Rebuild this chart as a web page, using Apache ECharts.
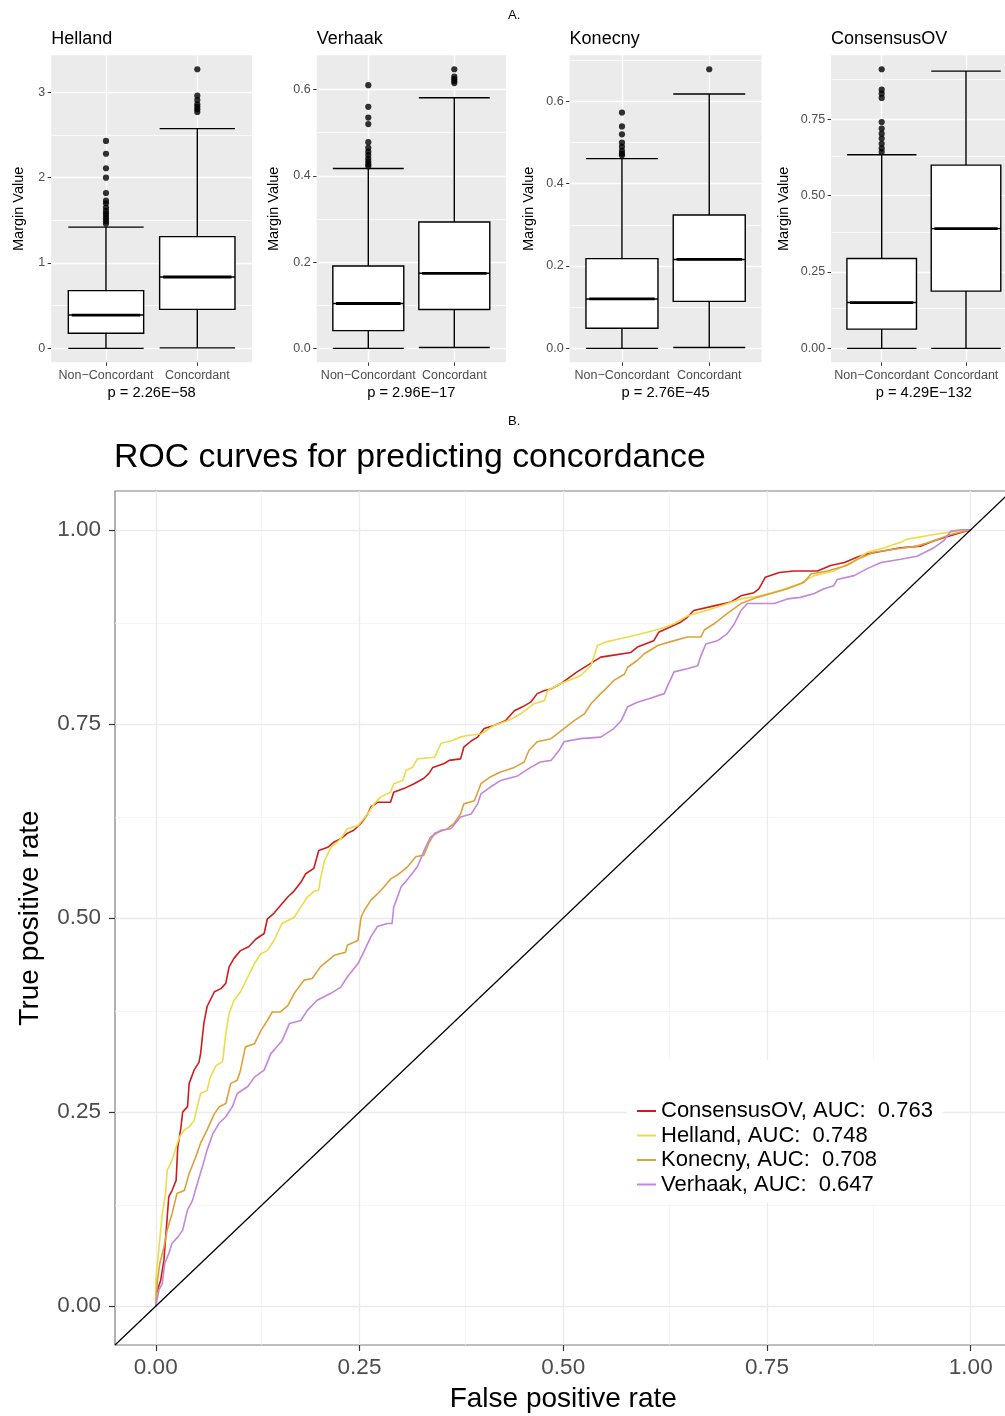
<!DOCTYPE html>
<html><head><meta charset="utf-8">
<script src="https://cdn.jsdelivr.net/npm/echarts@6/dist/echarts.min.js"></script>
<style>html,body{margin:0;padding:0;background:#fff}#c{width:1005px;height:1416px}</style>
</head><body><div id="c"></div>
<script>
// ---------- DATA ----------
const panelNames = ['Helland', 'Verhaak', 'Konecny', 'ConsensusOV'];
const groupLabels = ['Non\u2212Concordant', 'Concordant'];
const pValues = ['p = 2.26E\u221258', 'p = 2.96E\u221217', 'p = 2.76E\u221245', 'p = 4.29E\u2212132'];

// boxes: [lower whisker, Q1, median, Q3, upper whisker] for Non-Concordant, Concordant
const hellandBoxes = [[0, 0.176, 0.39, 0.676, 1.42], [0.005, 0.457, 0.836, 1.309, 2.574]];
const hellandOutNC = [1.46, 1.49, 1.52, 1.55, 1.58, 1.61, 1.65, 1.70, 1.73, 1.82, 2.00, 2.11, 2.28, 2.43];
const hellandOutC = [2.77, 2.80, 2.83, 2.86, 2.91, 2.96, 3.27];
const hellandTicks = [0, 1, 2, 3];
const hellandTickLabels = ['0', '1', '2', '3'];

const verhaakBoxes = [[0, 0.041, 0.104, 0.191, 0.417], [0.002, 0.09, 0.174, 0.293, 0.581]];
const verhaakOutNC = [0.422, 0.427, 0.433, 0.44, 0.448, 0.456, 0.465, 0.478, 0.52, 0.535, 0.56, 0.61];
const verhaakOutC = [0.615, 0.62, 0.625, 0.63, 0.647];
const verhaakTicks = [0, 0.2, 0.4, 0.6];
const verhaakTickLabels = ['0.0', '0.2', '0.4', '0.6'];

const konecnyBoxes = [[0, 0.049, 0.12, 0.218, 0.461], [0.002, 0.114, 0.216, 0.324, 0.618]];
const konecnyOutNC = [0.469, 0.473, 0.48, 0.49, 0.50, 0.52, 0.539, 0.573];
const konecnyOutC = [0.678];
const konecnyTicks = [0, 0.2, 0.4, 0.6];
const konecnyTickLabels = ['0.0', '0.2', '0.4', '0.6'];

const consensusBoxes = [[0, 0.063, 0.150, 0.294, 0.634], [0, 0.1875, 0.392, 0.60, 0.908]];
const consensusOutNC = [0.643, 0.655, 0.67, 0.687, 0.703, 0.72, 0.741, 0.82, 0.834, 0.847, 0.914];
const consensusOutC = [];
const consensusTicks = [0, 0.25, 0.5, 0.75];
const consensusTickLabels = ['0.00', '0.25', '0.50', '0.75'];

// ROC curves: [false positive rate, true positive rate]
const rocNames = ['ConsensusOV, AUC:  0.763', 'Helland, AUC:  0.748', 'Konecny, AUC:  0.708', 'Verhaak, AUC:  0.647'];
const rocColors = ['#d01c1c', '#ecdc48', '#dca23a', '#c486da'];
const rocTicks = [0, 0.25, 0.5, 0.75, 1];
const rocTickLabels = ['0.00', '0.25', '0.50', '0.75', '1.00'];

const consensusRoc = [[0,0],[0.001,0.017],[0.006,0.033],[0.010,0.059],[0.016,0.141],[0.020,0.149],[0.025,0.162],[0.027,0.205],[0.031,0.231],[0.033,0.250],[0.039,0.257],[0.041,0.287],[0.047,0.304],[0.053,0.314],[0.055,0.325],[0.059,0.364],[0.063,0.386],[0.072,0.405],[0.080,0.409],[0.086,0.416],[0.090,0.437],[0.096,0.448],[0.104,0.458],[0.114,0.463],[0.123,0.473],[0.133,0.480],[0.137,0.499],[0.145,0.506],[0.153,0.516],[0.162,0.527],[0.170,0.535],[0.178,0.546],[0.184,0.557],[0.194,0.564],[0.200,0.587],[0.211,0.591],[0.219,0.598],[0.227,0.602],[0.235,0.609],[0.243,0.613],[0.252,0.622],[0.260,0.634],[0.264,0.643],[0.272,0.649],[0.288,0.649],[0.292,0.662],[0.305,0.667],[0.317,0.673],[0.329,0.680],[0.335,0.686],[0.340,0.694],[0.354,0.699],[0.360,0.703],[0.374,0.705],[0.378,0.720],[0.387,0.728],[0.395,0.733],[0.403,0.744],[0.415,0.748],[0.429,0.754],[0.440,0.767],[0.450,0.772],[0.460,0.778],[0.468,0.789],[0.477,0.793],[0.485,0.795],[0.497,0.802],[0.517,0.817],[0.546,0.836],[0.558,0.838],[0.583,0.842],[0.591,0.849],[0.611,0.857],[0.617,0.868],[0.644,0.881],[0.652,0.887],[0.660,0.896],[0.685,0.902],[0.706,0.907],[0.718,0.915],[0.734,0.919],[0.740,0.924],[0.748,0.939],[0.765,0.945],[0.783,0.947],[0.812,0.947],[0.828,0.954],[0.845,0.958],[0.861,0.965],[0.873,0.969],[0.894,0.973],[0.914,0.977],[0.939,0.979],[0.955,0.986],[0.980,0.994],[1,1]];
const hellandRoc = [[0,0],[0,0.033],[0.004,0.076],[0.008,0.119],[0.012,0.145],[0.014,0.175],[0.020,0.188],[0.029,0.218],[0.035,0.227],[0.041,0.231],[0.047,0.239],[0.051,0.257],[0.055,0.274],[0.063,0.278],[0.067,0.295],[0.074,0.310],[0.082,0.315],[0.086,0.351],[0.090,0.377],[0.096,0.394],[0.104,0.405],[0.113,0.424],[0.121,0.441],[0.129,0.454],[0.137,0.458],[0.145,0.471],[0.155,0.493],[0.170,0.501],[0.178,0.514],[0.186,0.527],[0.194,0.534],[0.200,0.536],[0.202,0.550],[0.207,0.574],[0.215,0.591],[0.227,0.602],[0.235,0.615],[0.248,0.619],[0.260,0.634],[0.268,0.647],[0.276,0.656],[0.288,0.662],[0.292,0.673],[0.303,0.677],[0.307,0.690],[0.315,0.694],[0.321,0.705],[0.342,0.707],[0.350,0.725],[0.362,0.728],[0.374,0.733],[0.382,0.735],[0.399,0.737],[0.415,0.748],[0.432,0.754],[0.448,0.763],[0.464,0.776],[0.477,0.780],[0.481,0.793],[0.497,0.802],[0.521,0.812],[0.534,0.825],[0.542,0.851],[0.554,0.856],[0.571,0.860],[0.587,0.864],[0.603,0.868],[0.620,0.873],[0.636,0.879],[0.652,0.889],[0.669,0.894],[0.693,0.902],[0.718,0.911],[0.742,0.915],[0.767,0.922],[0.791,0.931],[0.808,0.941],[0.832,0.947],[0.857,0.960],[0.873,0.971],[0.894,0.977],[0.914,0.984],[0.922,0.988],[0.955,0.994],[0.980,0.998],[1,1]];
const konecnyRoc = [[0,0],[0.002,0.033],[0.005,0.055],[0.010,0.076],[0.014,0.098],[0.020,0.119],[0.026,0.145],[0.035,0.149],[0.041,0.171],[0.049,0.192],[0.055,0.210],[0.063,0.227],[0.072,0.248],[0.078,0.257],[0.086,0.261],[0.092,0.287],[0.100,0.291],[0.104,0.304],[0.110,0.334],[0.121,0.338],[0.129,0.355],[0.137,0.368],[0.143,0.379],[0.153,0.379],[0.162,0.387],[0.170,0.403],[0.182,0.420],[0.192,0.422],[0.202,0.437],[0.219,0.452],[0.233,0.456],[0.235,0.465],[0.248,0.471],[0.252,0.501],[0.256,0.510],[0.264,0.523],[0.272,0.531],[0.280,0.540],[0.288,0.550],[0.296,0.555],[0.309,0.566],[0.319,0.579],[0.329,0.581],[0.335,0.596],[0.342,0.609],[0.358,0.615],[0.366,0.622],[0.374,0.634],[0.378,0.647],[0.391,0.651],[0.399,0.673],[0.411,0.682],[0.423,0.688],[0.440,0.694],[0.452,0.701],[0.458,0.716],[0.468,0.727],[0.485,0.731],[0.513,0.754],[0.526,0.763],[0.534,0.776],[0.546,0.789],[0.554,0.797],[0.562,0.806],[0.575,0.814],[0.579,0.823],[0.591,0.832],[0.599,0.840],[0.616,0.851],[0.632,0.856],[0.652,0.862],[0.669,0.862],[0.673,0.871],[0.685,0.879],[0.701,0.892],[0.718,0.905],[0.738,0.913],[0.755,0.918],[0.775,0.924],[0.795,0.932],[0.804,0.943],[0.824,0.947],[0.848,0.954],[0.861,0.962],[0.881,0.971],[0.906,0.975],[0.934,0.979],[0.955,0.986],[0.975,0.994],[1,1]];
const verhaakRoc = [[0,0],[0.004,0.021],[0.008,0.029],[0.011,0.055],[0.016,0.068],[0.020,0.081],[0.027,0.089],[0.033,0.098],[0.039,0.124],[0.045,0.136],[0.051,0.158],[0.057,0.179],[0.063,0.201],[0.070,0.222],[0.078,0.236],[0.086,0.244],[0.094,0.257],[0.100,0.274],[0.113,0.283],[0.121,0.295],[0.133,0.304],[0.141,0.325],[0.155,0.342],[0.164,0.364],[0.178,0.368],[0.186,0.381],[0.198,0.394],[0.215,0.403],[0.227,0.411],[0.235,0.424],[0.248,0.441],[0.256,0.458],[0.264,0.476],[0.272,0.489],[0.284,0.493],[0.290,0.493],[0.292,0.514],[0.301,0.540],[0.309,0.550],[0.321,0.566],[0.331,0.591],[0.337,0.604],[0.350,0.613],[0.362,0.615],[0.374,0.630],[0.387,0.634],[0.395,0.647],[0.399,0.660],[0.411,0.669],[0.423,0.677],[0.444,0.683],[0.460,0.694],[0.472,0.701],[0.485,0.703],[0.495,0.716],[0.501,0.727],[0.521,0.731],[0.546,0.733],[0.562,0.744],[0.571,0.754],[0.579,0.772],[0.591,0.778],[0.607,0.783],[0.624,0.789],[0.628,0.799],[0.636,0.817],[0.652,0.821],[0.665,0.825],[0.669,0.838],[0.675,0.853],[0.689,0.857],[0.701,0.866],[0.710,0.879],[0.718,0.896],[0.726,0.905],[0.759,0.905],[0.775,0.911],[0.791,0.913],[0.808,0.918],[0.820,0.924],[0.832,0.928],[0.836,0.936],[0.857,0.941],[0.873,0.950],[0.890,0.958],[0.914,0.962],[0.934,0.966],[0.955,0.977],[0.967,0.986],[0.975,0.998],[0.988,1.0],[1,1]];
const diagonal = [[-0.05, -0.05], [1.05, 1.05]];

// ---------- LAYOUT ----------
const FONT = 'Liberation Sans, Arial, Helvetica, sans-serif';
const BOX_TOP = 55.3, BOX_H = 307;
const boxLayout = [
  { left: 51.2, width: 200.9, nameGap: 25 },
  { left: 316.7, width: 189.2, nameGap: 35 },
  { left: 569.6, width: 192, nameGap: 33 },
  { left: 831.1, width: 185.5, nameGap: 39.5 }
];
const ROC = { left: 115, top: 491, width: 896.5, height: 854 };

const panels = [
  { boxes: hellandBoxes, outNC: hellandOutNC, outC: hellandOutC, ticks: hellandTicks, labels: hellandTickLabels },
  { boxes: verhaakBoxes, outNC: verhaakOutNC, outC: verhaakOutC, ticks: verhaakTicks, labels: verhaakTickLabels },
  { boxes: konecnyBoxes, outNC: konecnyOutNC, outC: konecnyOutC, ticks: konecnyTicks, labels: konecnyTickLabels },
  { boxes: consensusBoxes, outNC: consensusOutNC, outC: consensusOutC, ticks: consensusTicks, labels: consensusTickLabels }
];

function labelFor(ticks, labels) {
  return function (v) {
    for (let i = 0; i < ticks.length; i++) if (Math.abs(ticks[i] - v) < 1e-9) return labels[i];
    return '';
  };
}
function minorsOf(ticks, lo, hi) {
  const step = ticks[1] - ticks[0];
  const out = [];
  for (let i = -1; i < ticks.length; i++) {
    const m = ticks[0] + (i + 0.5) * step;
    if (m > lo && m < hi) out.push(m);
  }
  return out;
}

const grids = [], xAxes = [], yAxes = [], series = [];
const plainText = (s) => ({ fontSize: s, fontWeight: 'normal', color: '#000', fontFamily: FONT });
const titles = [
  { text: 'A.', left: 508, top: 9, padding: 0, textStyle: plainText(13) },
  { text: 'B.', left: 508, top: 415, padding: 0, textStyle: plainText(13) },
  { text: 'ROC curves for predicting concordance', left: 114, top: 441, padding: 0, textStyle: plainText(33.8) }
];
const GRID_LINE = (extra) => Object.assign({ silent: true, z: 1, symbol: ['none', 'none'], label: { show: false }, animation: false }, extra);

panels.forEach(function (p, i) {
  const lay = boxLayout[i];
  let vmin = Infinity, vmax = -Infinity;
  p.boxes.forEach(b => b.forEach(v => { vmin = Math.min(vmin, v); vmax = Math.max(vmax, v); }));
  p.outNC.concat(p.outC).forEach(v => { vmin = Math.min(vmin, v); vmax = Math.max(vmax, v); });
  const r = vmax - vmin;
  const lo = vmin - 0.05 * r, hi = vmax + 0.05 * r;

  titles.push({ text: panelNames[i], left: lay.left, top: 30, padding: 0, textStyle: plainText(18) });

  grids.push({ left: lay.left, top: BOX_TOP, width: lay.width, height: BOX_H, show: true,
    outerBoundsMode: 'none', containLabel: false,
    backgroundColor: '#ebebeb', borderWidth: 0 });
  xAxes.push({ type: 'value', gridIndex: i, min: -0.6, max: 1.6,
    splitLine: { show: false }, axisLine: { show: false, onZero: false },
    axisTick: { show: true, customValues: [0, 1], length: 3.5, lineStyle: { color: '#333', width: 1 } },
    axisLabel: { customValues: [0, 1], formatter: v => groupLabels[Math.round(v)], showMinLabel: true, showMaxLabel: true, hideOverlap: false,
      fontSize: 12.5, color: '#4d4d4d', margin: 7, fontFamily: FONT },
    name: pValues[i], nameLocation: 'middle', nameGap: 23, nameMoveOverlap: false,
    nameTextStyle: plainText(14.7) });
  yAxes.push({ type: 'value', gridIndex: i, min: lo, max: hi,
    splitLine: { show: false }, axisLine: { show: false, onZero: false },
    axisTick: { show: true, customValues: p.ticks, length: 3.5, lineStyle: { color: '#333', width: 1 } },
    axisLabel: { customValues: p.ticks, formatter: labelFor(p.ticks, p.labels), showMinLabel: true, showMaxLabel: true,
      fontSize: 12.5, color: '#4d4d4d', margin: 6, fontFamily: FONT },
    name: 'Margin Value', nameLocation: 'middle', nameGap: lay.nameGap, nameMoveOverlap: false,
    nameTextStyle: plainText(14.5) });

  const gl = [];
  minorsOf(p.ticks, lo, hi).forEach(v => gl.push({ yAxis: v, lineStyle: { color: '#fff', width: 0.7, type: 'solid' } }));
  p.ticks.forEach(v => gl.push({ yAxis: v, lineStyle: { color: '#fff', width: 1.4, type: 'solid' } }));
  [0, 1].forEach(v => gl.push({ xAxis: v, lineStyle: { color: '#fff', width: 1.4, type: 'solid' } }));
  series.push({ type: 'line', xAxisIndex: i, yAxisIndex: i, data: [], z: 1, silent: true,
    markLine: GRID_LINE({ data: gl }) });

  series.push({ type: 'boxplot', xAxisIndex: i, yAxisIndex: i, z: 2, silent: true,
    boxWidth: ['75%', '75%'],
    data: p.boxes.map((b, k) => [k].concat(b)),
    itemStyle: { color: '#fff', borderColor: '#000', borderWidth: 1.4 } });

  series.push({ type: 'custom', xAxisIndex: i, yAxisIndex: i, z: 3, silent: true,
    data: p.boxes.map((b, k) => [k, b[2]]),
    renderItem: function (params, api) {
      const x = api.value(0), y = api.value(1);
      const a = api.coord([x - 0.375, y]), c = api.coord([x + 0.375, y]);
      return { type: 'line', shape: { x1: a[0], y1: a[1], x2: c[0], y2: c[1] }, style: { stroke: '#000', lineWidth: 2.8 } };
    } });

  series.push({ type: 'scatter', xAxisIndex: i, yAxisIndex: i, z: 4, silent: true, symbolSize: 6.2,
    itemStyle: { color: '#000' },
    data: p.outNC.map(v => [0, v]).concat(p.outC.map(v => [1, v])) });
});

// ROC panel (grid index 4)
grids.push({ left: ROC.left, top: ROC.top, width: ROC.width, height: ROC.height, show: true,
  outerBoundsMode: 'none', containLabel: false,
  backgroundColor: '#fff', borderColor: '#7f7f7f', borderWidth: 1.2 });
xAxes.push({ type: 'value', gridIndex: 4, min: -0.05, max: 1.05,
  splitLine: { show: false }, axisLine: { show: false, onZero: false },
  axisTick: { show: true, customValues: rocTicks, length: 6, lineStyle: { color: '#333', width: 1.2 } },
  axisLabel: { customValues: rocTicks, formatter: labelFor(rocTicks, rocTickLabels), showMinLabel: true, showMaxLabel: true,
    fontSize: 22.5, color: '#4d4d4d', margin: 11, fontFamily: FONT },
  name: 'False positive rate', nameLocation: 'middle', nameGap: 40, nameMoveOverlap: false,
  nameTextStyle: plainText(28) });
yAxes.push({ type: 'value', gridIndex: 4, min: -0.05, max: 1.05,
  splitLine: { show: false }, axisLine: { show: false, onZero: false },
  axisTick: { show: true, customValues: rocTicks, length: 6, lineStyle: { color: '#333', width: 1.2 } },
  axisLabel: { customValues: rocTicks, formatter: labelFor(rocTicks, rocTickLabels), showMinLabel: true, showMaxLabel: true,
    fontSize: 22.5, color: '#4d4d4d', margin: 14, fontFamily: FONT },
  name: 'True positive rate', nameLocation: 'middle', nameGap: 71, nameMoveOverlap: false,
  nameTextStyle: plainText(28) });

const rgl = [];
minorsOf(rocTicks, -0.05, 1.05).forEach(v => {
  rgl.push({ xAxis: v, lineStyle: { color: '#f2f2f2', width: 0.7, type: 'solid' } });
  rgl.push({ yAxis: v, lineStyle: { color: '#f2f2f2', width: 0.7, type: 'solid' } });
});
rocTicks.forEach(v => {
  rgl.push({ xAxis: v, lineStyle: { color: '#ebebeb', width: 1.3, type: 'solid' } });
  rgl.push({ yAxis: v, lineStyle: { color: '#ebebeb', width: 1.3, type: 'solid' } });
});
series.push({ type: 'line', xAxisIndex: 4, yAxisIndex: 4, data: [], z: 1, silent: true,
  markLine: GRID_LINE({ data: rgl }) });

[consensusRoc, hellandRoc, konecnyRoc, verhaakRoc].forEach(function (d, k) {
  series.push({ type: 'line', name: rocNames[k], xAxisIndex: 4, yAxisIndex: 4, z: 3 + k,
    data: d, symbol: 'none', showSymbol: false, smooth: false,
    lineStyle: { color: rocColors[k], width: 1.6 }, itemStyle: { color: rocColors[k] } });
});
series.push({ type: 'line', xAxisIndex: 4, yAxisIndex: 4, z: 8, data: diagonal, symbol: 'none', silent: true,
  lineStyle: { color: '#000', width: 1.3 } });

const chart = echarts.init(document.getElementById('c'), null, { renderer: 'canvas' });
chart.setOption({
  animation: false,
  backgroundColor: '#fff',
  textStyle: { fontFamily: FONT },
  title: titles,
  grid: grids,
  xAxis: xAxes,
  yAxis: yAxes,
  legend: {
    data: rocNames, orient: 'vertical', left: 627, top: 1060,
    padding: [40, 10, 7, 10], backgroundColor: '#fff',
    icon: 'rect', itemWidth: 19, itemHeight: 2, itemGap: 2.5, selectedMode: false,
    textStyle: { fontSize: 22, lineHeight: 22, color: '#000', fontFamily: FONT }
  },
  series: series
});
</script>
</body></html>
